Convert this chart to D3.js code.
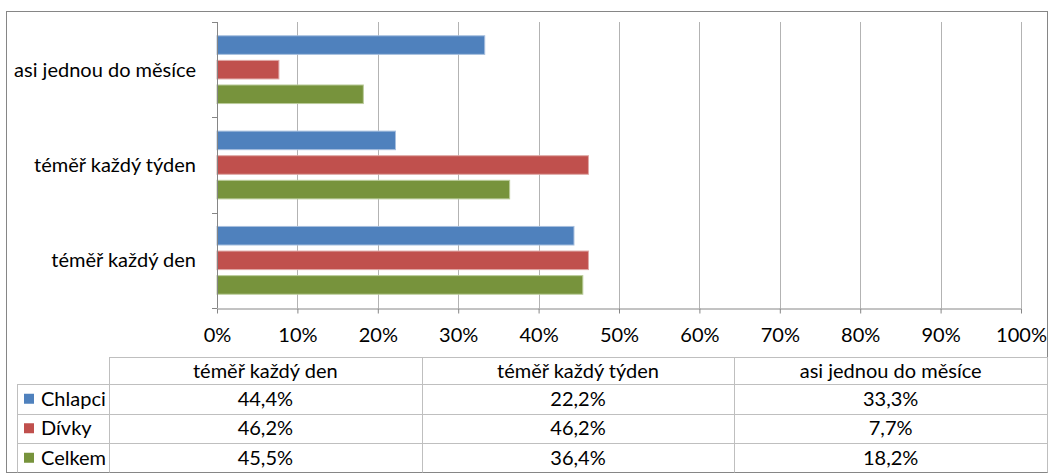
<!DOCTYPE html>
<html>
<head>
<meta charset="utf-8">
<script src="https://cdn.jsdelivr.net/npm/d3@7"></script>
<style>
  body { margin: 0; background: #fff; }
  text { font-family: Lato, "Open Sans", sans-serif; fill: #000; }
</style>
</head>
<body>
<svg></svg>
<script>
const svg_width = 1056;
const svg_height = 474;

const categories = ["téměř každý den", "téměř každý týden", "asi jednou do měsíce"];
const seriesNames = ["Chlapci", "Dívky", "Celkem"];
const chlapci = [44.4, 22.2, 33.3];
const divky = [46.2, 46.2, 7.7];
const celkem = [45.5, 36.4, 18.2];
const xTicks = [0, 10, 20, 30, 40, 50, 60, 70, 80, 90, 100];
const colors = ["#4f81bd", "#c0504d", "#77933c"];
const strokes = ["#a7bfde", "#dfa8a6", "#bbcc9b"];

const values = [chlapci, divky, celkem];
const fontSize = 20;

const plot = { left: 217, right: 1021, top: 22, bottom: 308 };

const svg = d3.select("svg")
    .attr("width", svg_width)
    .attr("height", svg_height);

// outer frame
svg.append("rect")
    .attr("x", 6.5).attr("y", 11.5)
    .attr("width", 1041).attr("height", 461)
    .attr("fill", "none")
    .attr("stroke", "#868686");

const xScale = d3.scaleLinear()
    .domain([0, 100])
    .range([plot.left, plot.right]);

const yScale = d3.scaleBand() // categories, first at bottom
    .domain(categories.slice().reverse())
    .range([plot.top, plot.bottom]);

const yInner = d3.scaleBand()
    .domain(seriesNames)
    .range([0, yScale.bandwidth()])
    .paddingInner(0.245)
    .paddingOuter(0.56);

// gridlines
svg.append("g").selectAll("line")
    .data(xTicks.filter(d => d > 0))
    .enter()
    .append("line")
    .attr("x1", d => Math.round(xScale(d)) + 0.5)
    .attr("x2", d => Math.round(xScale(d)) + 0.5)
    .attr("y1", plot.top)
    .attr("y2", plot.bottom)
    .attr("stroke", "#b3b3b3");

// bars
categories.forEach((cat, ci) => {
    svg.append("g").selectAll("rect")
        .data(seriesNames)
        .enter()
        .append("rect")
        .attr("x", xScale(0))
        .attr("y", s => yScale(cat) + yInner(s))
        .attr("width", (s, si) => xScale(values[si][ci]) - xScale(0))
        .attr("height", yInner.bandwidth())
        .attr("fill", (s, si) => colors[si])
        .attr("stroke", (s, si) => strokes[si])
        .attr("stroke-width", 1);
});

// x axis
const xAxis = d3.axisBottom(xScale)
    .tickValues(xTicks)
    .tickSize(5)
    .tickSizeOuter(0)
    .tickPadding(14)
    .tickFormat(d => d + "%");

const gx = svg.append("g")
    .attr("transform", `translate(0, ${plot.bottom + 0.5})`)
    .call(xAxis);
gx.select(".domain").attr("stroke", "#868686");
gx.selectAll(".tick line").attr("stroke", "#868686");
gx.selectAll(".tick text").attr("font-size", fontSize).attr("fill", "#000")
    .style("font-family", "Lato, sans-serif");

// y axis: ticks at category boundaries
const yBounds = categories.map(c => yScale(c)).concat([plot.bottom]);
svg.append("line")
    .attr("x1", plot.left + 0.5).attr("x2", plot.left + 0.5)
    .attr("y1", plot.top).attr("y2", plot.bottom)
    .attr("stroke", "#868686");
svg.append("g").selectAll("line")
    .data(yBounds)
    .enter()
    .append("line")
    .attr("x1", plot.left - 5).attr("x2", plot.left)
    .attr("y1", d => Math.round(d) + 0.5)
    .attr("y2", d => Math.round(d) + 0.5)
    .attr("stroke", "#868686");

svg.append("g").selectAll("text")
    .data(categories)
    .enter()
    .append("text")
    .attr("x", 196)
    .attr("y", d => yScale(d) + yScale.bandwidth() / 2)
    .attr("dy", "0.35em")
    .attr("text-anchor", "end")
    .attr("font-size", fontSize)
    .text(d => d);

// data table
const table = { left: 109, right: 1047, top: 357, headerH: 27, rowH: 29.5, legendLeft: 17 };
const colW = (table.right - table.left) / categories.length;
const rowY = i => table.top + table.headerH + i * table.rowH;
const tableBottom = rowY(seriesNames.length);
const lineColor = "#bfbfbf";

const tg = svg.append("g");
// header top line
tg.append("line")
    .attr("x1", table.left).attr("x2", table.right)
    .attr("y1", table.top + 0.5).attr("y2", table.top + 0.5)
    .attr("stroke", lineColor);
// row lines
d3.range(seriesNames.length).forEach(i => {
    tg.append("line")
        .attr("x1", table.legendLeft).attr("x2", table.right)
        .attr("y1", Math.round(rowY(i)) + 0.5).attr("y2", Math.round(rowY(i)) + 0.5)
        .attr("stroke", lineColor);
});
// vertical lines
d3.range(categories.length + 1).forEach(i => {
    const x = Math.round(table.left + i * colW) + 0.5;
    tg.append("line")
        .attr("x1", x).attr("x2", x)
        .attr("y1", table.top).attr("y2", tableBottom)
        .attr("stroke", lineColor);
});
tg.append("line")
    .attr("x1", table.legendLeft + 0.5).attr("x2", table.legendLeft + 0.5)
    .attr("y1", rowY(0)).attr("y2", tableBottom)
    .attr("stroke", lineColor);

// header texts
tg.selectAll("text.head")
    .data(categories)
    .enter()
    .append("text")
    .attr("class", "head")
    .attr("x", (d, i) => table.left + (i + 0.5) * colW)
    .attr("y", table.top + table.headerH / 2)
    .attr("dy", "0.35em")
    .attr("text-anchor", "middle")
    .attr("font-size", fontSize)
    .text(d => d);

const fmt = v => d3.format(".1f")(v).replace(".", ",") + "%";

seriesNames.forEach((s, si) => {
    const cy = rowY(si) + table.rowH / 2;
    tg.append("rect")
        .attr("x", 24).attr("y", cy - 5)
        .attr("width", 10).attr("height", 10)
        .attr("fill", colors[si]);
    tg.append("text")
        .attr("x", 41).attr("y", cy)
        .attr("dy", "0.35em")
        .attr("font-size", fontSize)
        .text(s);
    values[si].forEach((v, ci) => {
        tg.append("text")
            .attr("x", table.left + (ci + 0.5) * colW)
            .attr("y", cy)
            .attr("dy", "0.35em")
            .attr("text-anchor", "middle")
            .attr("font-size", fontSize)
            .text(fmt(v));
    });
});
</script>
</body>
</html>
